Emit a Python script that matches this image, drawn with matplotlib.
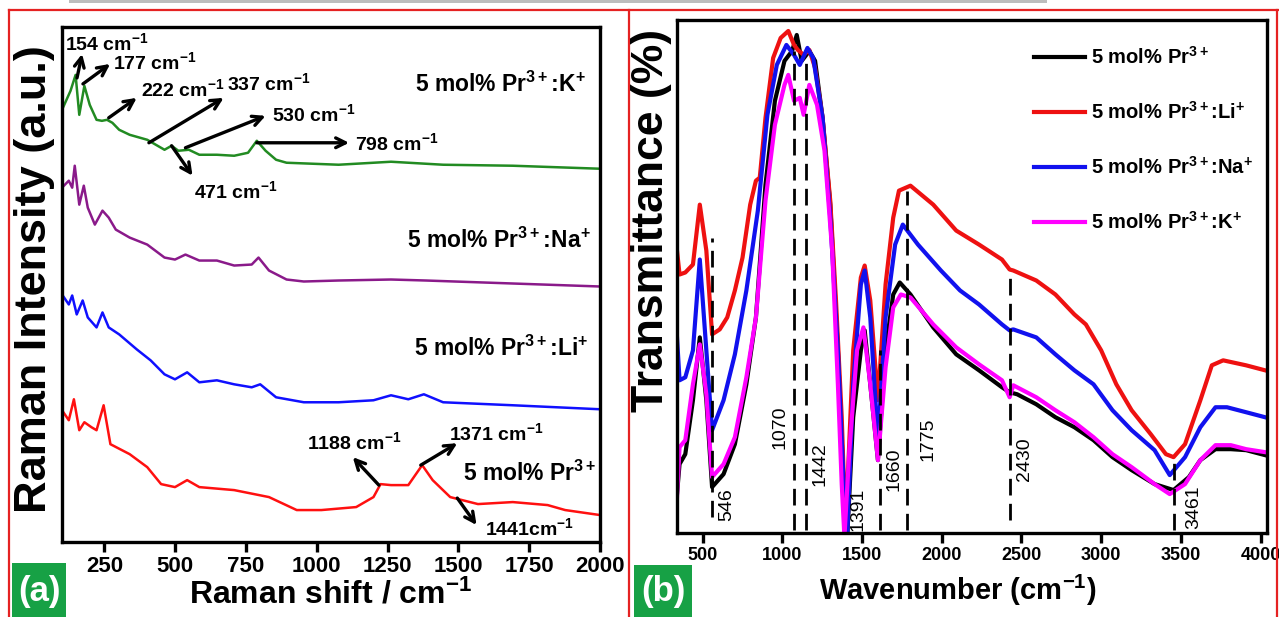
import matplotlib
matplotlib.use('Agg')
import matplotlib.pyplot as plt
from matplotlib.patches import Rectangle
from matplotlib.lines import Line2D

plt.rcParams['font.family'] = ['Liberation Sans', 'DejaVu Sans']
plt.rcParams['mathtext.default'] = 'regular'
plt.rcParams['axes.linewidth'] = 2.4

# ---------------- (a) Raman spectra ----------------
raman_ticks = [250, 500, 750, 1000, 1250, 1500, 1750, 2000]

k_w = [100, 130, 148, 161, 179, 198, 222, 241, 259, 278, 302, 339, 401, 462, 487, 511, 548, 585, 647, 708,
       757, 788, 819, 856, 893, 1077, 1262, 1446, 1692, 2000]
k_i = [433, 452, 468, 428, 457, 438, 423, 422, 423, 420, 413, 408, 403, 393, 397, 392, 393, 388, 388, 387,
       390, 402, 392, 383, 380, 378, 381, 378, 377, 374]

na_w = [100, 124, 136, 145, 161, 177, 191, 216, 243, 265, 290, 339, 401, 462, 499, 536, 585, 647, 708, 770,
        794, 831, 893, 954, 1077, 1262, 1385, 1692, 2000]
na_i = [355, 362, 355, 377, 338, 357, 335, 318, 332, 325, 313, 305, 298, 285, 283, 288, 282, 282, 277, 278,
        285, 272, 263, 261, 262, 263, 262, 259, 256]

li_w = [100, 124, 136, 152, 173, 191, 222, 243, 265, 302, 364, 413, 462, 499, 542, 585, 647, 708, 770, 800,
        856, 954, 1077, 1200, 1262, 1323, 1378, 1446, 1692, 2000]
li_i = [248, 238, 247, 228, 242, 225, 215, 230, 215, 208, 193, 182, 168, 163, 170, 160, 162, 158, 155, 158,
        145, 140, 140, 142, 147, 143, 148, 140, 137, 133]

pr_w = [100, 124, 142, 161, 179, 204, 222, 247, 271, 339, 401, 450, 499, 542, 585, 708, 831, 929, 1016, 1139,
        1200, 1225, 1262, 1323, 1372, 1409, 1471, 1569, 1692, 1815, 1877, 2000]
pr_i = [132, 122, 143, 112, 120, 115, 112, 137, 98, 88, 75, 58, 55, 62, 55, 52, 45, 32, 32, 35,
        45, 58, 57, 57, 77, 62, 45, 38, 40, 37, 32, 27]

raman_labels = [r"5 mol% Pr$^{3+}$:K$^{+}$", r"5 mol% Pr$^{3+}$:Na$^{+}$",
                r"5 mol% Pr$^{3+}$:Li$^{+}$", r"5 mol% Pr$^{3+}$"]
raman_label_pos = [(1951, 459), (1968, 302), (1958, 194), (1988, 69)]

# peak notes: text, arrow tail (on curve), arrow head, text position
peak_notes = [
    ("154 cm$^{-1}$", (153, 465), (171, 489), (111, 500)),
    ("177 cm$^{-1}$", (174, 459), (270, 479), (280, 481)),
    ("222 cm$^{-1}$", (265, 425), (364, 445), (378, 454)),
    ("337 cm$^{-1}$", (407, 400), (671, 445), (681, 460)),
    ("530 cm$^{-1}$", (536, 395), (819, 427), (843, 429)),
    ("798 cm$^{-1}$", (788, 400), (1114, 400), (1133, 400)),
    ("471 cm$^{-1}$", (487, 397), (561, 367), (566, 352)),
    ("1188 cm$^{-1}$", (1219, 57), (1127, 85), (967, 100)),
    ("1371 cm$^{-1}$", (1367, 77), (1496, 99), (1465, 109)),
    ("1441cm$^{-1}$", (1496, 44), (1564, 17), (1594, 14)),
]

# ---------------- (b) FTIR spectra ----------------
ir_ticks = [500, 1000, 1500, 2000, 2500, 3000, 3500, 4000]

pr_ir_w = [340, 356, 392, 440, 483, 524, 560, 632, 703, 775, 835, 895, 954, 1014, 1062, 1091, 1122, 1170, 1206,
           1253, 1301, 1349, 1385, 1409, 1445, 1493, 1517, 1552, 1600, 1648, 1696, 1737, 1804, 1947, 2091,
           2234, 2378, 2426, 2473, 2593, 2713, 2832, 2952, 3071, 3191, 3335, 3454, 3550, 3622, 3717, 3813,
           3909, 4028]
pr_ir_t = [39, 69, 79, 133, 196, 133, 46, 59, 89, 149, 216, 349, 433, 473, 483, 499, 473, 483, 473,
           416, 329, 183, 49, 1, 116, 183, 203, 149, 73, 183, 239, 251, 239, 206, 179,
           163, 146, 141, 139, 129, 116, 106, 93, 76, 63, 49, 43, 56, 73, 84, 84,
           83, 78]

li_ir_w = [340, 356, 392, 440, 483, 524, 560, 608, 655, 703, 751, 799, 835, 859, 895, 943, 990, 1038, 1074,
           1098, 1134, 1170, 1206, 1253, 1301, 1337, 1373, 1397, 1445, 1493, 1517, 1552, 1600, 1648, 1696,
           1732, 1804, 1947, 2091, 2234, 2378, 2426, 2449, 2593, 2713, 2832, 2904, 3000, 3095, 3191, 3311,
           3406, 3454, 3526, 3622, 3694, 3765, 3909, 4028]
li_ir_t = [283, 259, 261, 269, 329, 283, 199, 204, 216, 243, 276, 329, 353, 356, 416, 476, 496, 503, 489,
           484, 479, 484, 466, 416, 333, 233, 116, 3, 183, 256, 268, 233, 133, 249, 316,
           343, 348, 329, 303, 289, 274, 264, 263, 253, 239, 219, 209, 183, 149, 123, 99,
           79, 76, 89, 133, 168, 173, 168, 163]

na_ir_w = [340, 356, 392, 440, 483, 524, 560, 632, 703, 775, 811, 847, 907, 966, 1026, 1074, 1110, 1158, 1194,
           1253, 1301, 1349, 1385, 1409, 1445, 1493, 1517, 1552, 1600, 1648, 1708, 1756, 1851, 1995, 2115,
           2234, 2378, 2426, 2449, 2593, 2713, 2832, 2952, 3071, 3191, 3335, 3430, 3526, 3622, 3717, 3789,
           3909, 4028]
na_ir_t = [196, 153, 156, 183, 274, 183, 103, 133, 179, 243, 283, 323, 419, 469, 489, 479, 469, 486, 476,
           416, 316, 183, 49, 1, 149, 249, 263, 216, 93, 216, 289, 309, 289, 263, 243,
           229, 209, 203, 204, 196, 179, 163, 149, 123, 103, 83, 58, 76, 106, 126, 126,
           121, 116]

k_ir_w = [340, 356, 392, 440, 483, 524, 560, 632, 703, 775, 835, 895, 954, 1014, 1038, 1074, 1110, 1134, 1170,
          1218, 1265, 1313, 1349, 1373, 1390, 1421, 1469, 1509, 1552, 1600, 1648, 1696, 1744, 1804, 1947,
          2091, 2234, 2378, 2426, 2449, 2593, 2713, 2832, 2952, 3071, 3191, 3335, 3430, 3526, 3622, 3717,
          3813, 3909, 4028]
k_ir_t = [36, 86, 93, 149, 189, 139, 56, 69, 96, 156, 216, 333, 409, 449, 459, 433, 436, 419, 449,
          429, 383, 283, 149, 49, -4, 83, 183, 206, 149, 73, 166, 226, 239, 236, 209,
          186, 169, 153, 136, 148, 136, 123, 111, 96, 79, 66, 49, 39, 49, 73, 88,
          88, 84, 81]

ir_labels = [r"5 mol% Pr$^{3+}$", r"5 mol% Pr$^{3+}$:Li$^{+}$",
             r"5 mol% Pr$^{3+}$:Na$^{+}$", r"5 mol% Pr$^{3+}$:K$^{+}$"]

# marked bands: label, line position, line top, line bottom, label x, label y
band_marks = [
    ("546", 560, 296, 16, 655, 28),
    ("1070", 1074, 483, 3, 986, 106),
    ("1442", 1146, 479, 3, 1234, 69),
    ("1391", None, 0, 0, 1476, 24),
    ("1660", 1612, 183, 3, 1703, 64),
    ("1775", 1780, 343, 3, 1911, 94),
    ("2430", 2430, 259, 13, 2521, 74),
    ("3461", 3459, 76, 3, 3579, 26),
]

W, H = 1279, 617


def fx(x):
    return x / W


def fy(y):
    return 1 - y / H


fig = plt.figure(figsize=(12.79, 6.17), dpi=100)

# decorations: gray bar, red panel frames, green panel tags
fig.add_artist(Rectangle((fx(69), fy(3)), fx(1047) - fx(69), fy(0) - fy(3),
                         transform=fig.transFigure, color='#bdbdbd', lw=0))
red = '#e52222'
for xs, ys in [((9, 1279), (10, 10)), ((9, 9), (10, 617)), ((629, 629), (10, 617)), ((1277, 1277), (10, 617))]:
    fig.add_artist(Line2D([fx(xs[0]), fx(xs[1])], [fy(ys[0]), fy(ys[1])],
                          transform=fig.transFigure, color=red, lw=1.6))
for tag, x0, x1, y0 in [("(a)", 12, 66, 563), ("(b)", 634, 692, 565)]:
    fig.add_artist(Rectangle((fx(x0), fy(617)), fx(x1) - fx(x0), fy(y0) - fy(617),
                             transform=fig.transFigure, color='#17a145', lw=0))
    fig.text(fx((x0 + x1) / 2), fy((y0 + 617) / 2 + 1), tag, color='white', fontsize=25,
             fontweight='bold', ha='center', va='center')

# ---- panel (a)
ax1 = fig.add_axes([fx(62), fy(542), fx(600) - fx(62), fy(27) - fy(542)])
ax1.plot(pr_w, pr_i, color='#ff1010', lw=1.8)
ax1.plot(li_w, li_i, color='#1010ff', lw=1.8)
ax1.plot(na_w, na_i, color='#8a1a8a', lw=1.8)
ax1.plot(k_w, k_i, color='#228b22', lw=1.8)
ax1.set_xlim(100, 2000)
ax1.set_ylim(0, 516)
ax1.set_yticks([])
ax1.set_xticks(raman_ticks)
ax1.tick_params(axis='x', direction='out', length=7, width=2.4, labelsize=16, pad=3)
for lab in ax1.get_xticklabels():
    lab.set_fontweight('bold')

for lab, (x, y) in zip(raman_labels, raman_label_pos):
    ax1.text(x, y, lab, fontsize=16.5, fontweight='bold', ha='right', va='center')

for txt, tail, head, tpos in peak_notes:
    ax1.annotate('', xy=head, xytext=tail,
                 arrowprops=dict(arrowstyle='->,head_length=0.7,head_width=0.35', lw=2.4, color='black',
                                 shrinkA=0, shrinkB=0))
    ax1.text(tpos[0], tpos[1], txt, fontsize=14, fontweight='bold', ha='left', va='center')

fig.text(fx(35), fy(279), "Raman Intensity (a.u.)", rotation=90, fontsize=32.5, fontweight='bold',
         ha='center', va='center')
fig.text(fx(331), fy(595), "Raman shift / cm$^{-1}$", fontsize=23, fontweight='bold',
         ha='center', va='center')

# ---- panel (b)
ax2 = fig.add_axes([fx(677), fy(533), fx(1267) - fx(677), fy(20) - fy(533)])
for (wv, tv, col, lab) in [(pr_ir_w, pr_ir_t, 'black', ir_labels[0]),
                            (li_ir_w, li_ir_t, '#ee1111', ir_labels[1]),
                            (na_ir_w, na_ir_t, '#1111ee', ir_labels[2]),
                            (k_ir_w, k_ir_t, '#ff00ff', ir_labels[3])]:
    ax2.plot(wv, tv, color=col, lw=3, label=lab)

for lab, xl, top, bot, tx, ty in band_marks:
    if xl is not None:
        ax2.plot([xl, xl], [bot, top], color='black', lw=2, linestyle=(0, (6, 3)))
    ax2.text(tx, ty, lab, rotation=90, fontsize=14, ha='center', va='center')

ax2.set_xlim(340, 4040)
ax2.set_ylim(0, 514)
ax2.set_yticks([])
ax2.set_xticks(ir_ticks)
ax2.tick_params(axis='x', direction='out', length=7, width=2.4, labelsize=13, pad=3)
for lab in ax2.get_xticklabels():
    lab.set_fontweight('bold')

leg = ax2.legend(loc='upper left', bbox_to_anchor=(0.575, 0.985), frameon=False,
                 prop={'weight': 'bold', 'size': 14.5},
                 handlelength=2.5, handletextpad=0.3, labelspacing=1.65)

fig.text(fx(652), fy(220), "Transmittance (%)", rotation=90, fontsize=32, fontweight='bold',
         ha='center', va='center')
fig.text(fx(958), fy(590), "Wavenumber (cm$^{-1}$)", fontsize=21, fontweight='bold',
         ha='center', va='center')

fig.savefig('out.png', dpi=100)
